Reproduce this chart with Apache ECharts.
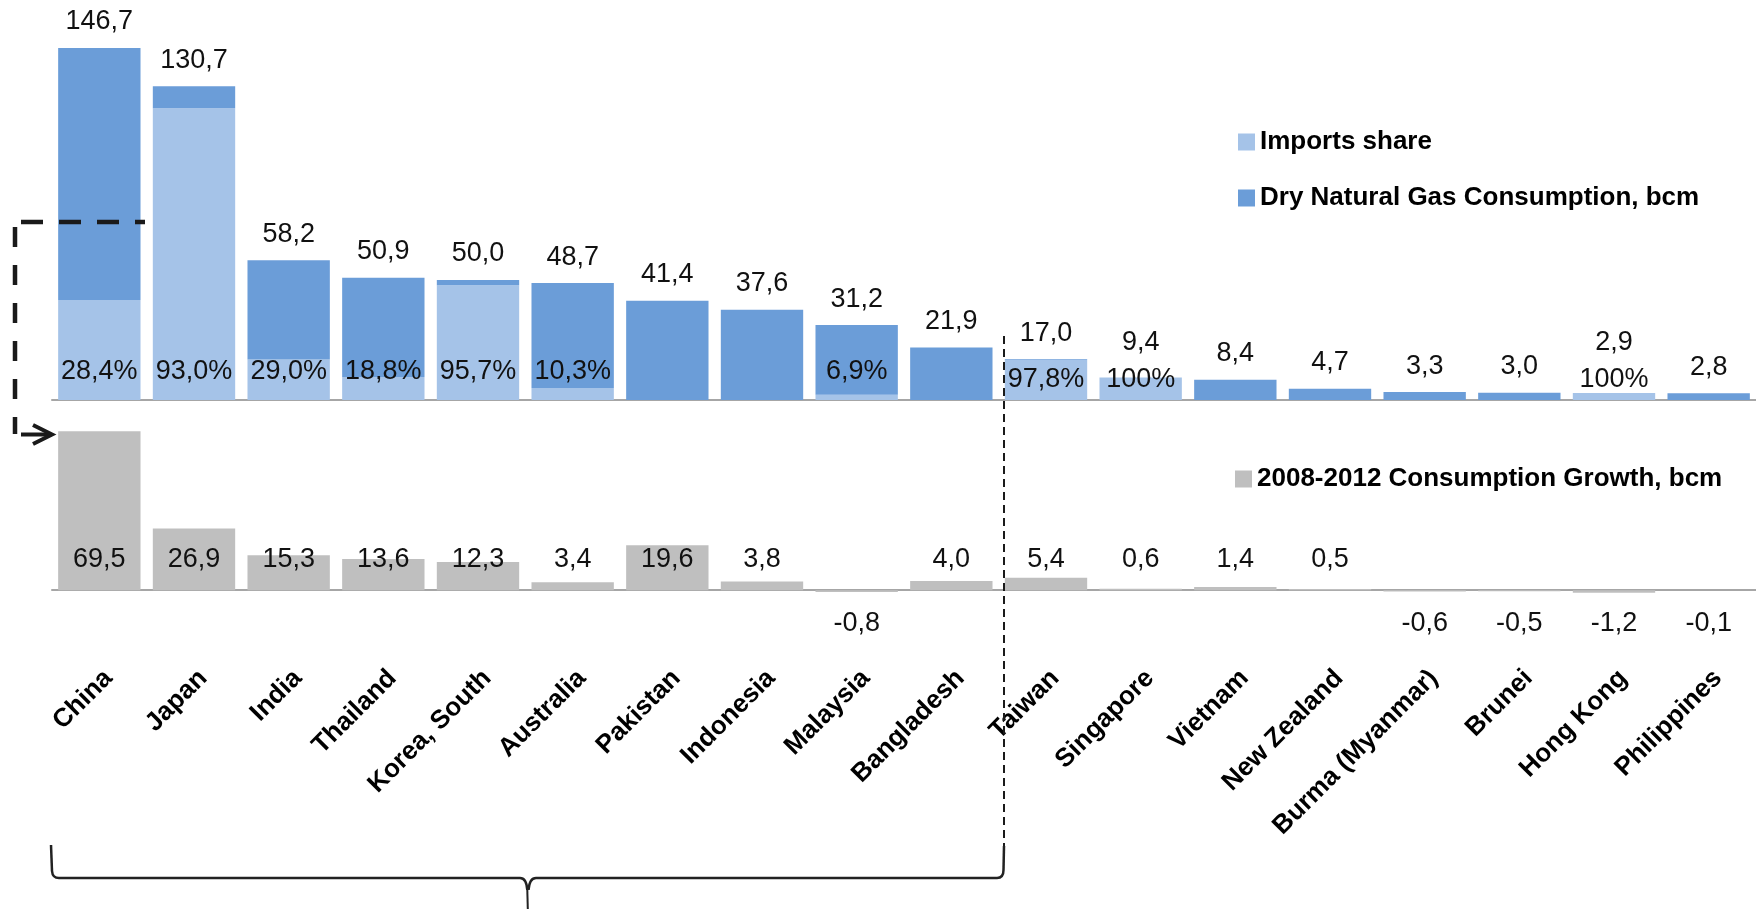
<!DOCTYPE html>
<html><head><meta charset="utf-8">
<script src="https://cdn.jsdelivr.net/npm/echarts@6/dist/echarts.min.js"></script>
<style>html,body{margin:0;padding:0;background:#fff}#c{width:1756px;height:909px}</style>
</head><body><div id="c"></div>
<script>
// ---- data ----
const categories = ['China','Japan','India','Thailand','Korea, South','Australia','Pakistan','Indonesia','Malaysia','Bangladesh','Taiwan','Singapore','Vietnam','New Zealand','Burma (Myanmar)','Brunei','Hong Kong','Philippines'];
const consumption = [146.7,130.7,58.2,50.9,50.0,48.7,41.4,37.6,31.2,21.9,17.0,9.4,8.4,4.7,3.3,3.0,2.9,2.8];
const importsShare = [28.4,93.0,29.0,18.8,95.7,10.3,null,null,6.9,null,97.8,100,null,null,null,null,100,null];
const growth = [69.5,26.9,15.3,13.6,12.3,3.4,19.6,3.8,-0.8,4.0,5.4,0.6,1.4,0.5,-0.6,-0.5,-1.2,-0.1];
const seriesNames = ['Imports share','Dry Natural Gas Consumption, bcm','2008-2012 Consumption Growth, bcm'];

// ---- style ----
const DARK = '#6b9dd8', LIGHT = '#a5c3e8', GRAY = '#bfbfbf', AXIS = '#a6a6a6', INK = '#111';
const NUM_FONT = "'Liberation Sans Narrow','Arial Narrow','Liberation Sans',Arial,sans-serif";
const TXT_FONT = "'Liberation Sans',Arial,sans-serif";
const NUM_SIZE = 27;
const GRID_LEFT = 52, GRID_W = 1714;
const TOP_TOP = 40, TOP_H = 360, TOP_MAX = 150;
const BOT_TOP = 430, BOT_H = 183, BOT_MIN = -10, BOT_MAX = 70;
const pxTop = TOP_H / TOP_MAX;

const fmt = v => v.toFixed(1).replace('.', ',');
const fmtPct = v => v === 100 ? '100%' : fmt(v) + '%';

const importedPart = consumption.map((c, i) => importsShare[i] == null ? 0 : c * importsShare[i] / 100);
const domesticPart = consumption.map((c, i) => c - importedPart[i]);

const numLabel = { fontFamily: NUM_FONT, fontSize: NUM_SIZE, lineHeight: NUM_SIZE, color: INK };
const DK = '#1a1a1a';

const chart = echarts.init(document.getElementById('c'), null, { renderer: 'canvas' });
chart.setOption({
  animation: false,
  backgroundColor: '#fff',
  grid: [
    { left: GRID_LEFT, width: GRID_W, top: TOP_TOP, height: TOP_H },
    { left: GRID_LEFT, width: GRID_W, top: BOT_TOP, height: BOT_H }
  ],
  xAxis: [
    { type: 'category', gridIndex: 0, data: categories,
      axisLine: { lineStyle: { color: AXIS, width: 2 } }, axisTick: { show: false }, axisLabel: { show: false } },
    { type: 'category', gridIndex: 1, data: categories,
      axisLine: { onZero: true, lineStyle: { color: AXIS, width: 2 } }, axisTick: { show: false },
      axisLabel: { interval: 0, rotate: 45, margin: 52, verticalAlign: 'top', fontFamily: TXT_FONT, fontWeight: 'bold', fontSize: 26, color: '#000' } }
  ],
  yAxis: [
    { type: 'value', gridIndex: 0, min: 0, max: TOP_MAX, show: false, splitLine: { show: false } },
    { type: 'value', gridIndex: 1, min: BOT_MIN, max: BOT_MAX, show: false, splitLine: { show: false } }
  ],
  legend: [
    { data: [seriesNames[0], seriesNames[1]], orient: 'vertical', left: 1233, top: 124,
      itemWidth: 17, itemHeight: 17, itemGap: 30, icon: 'rect', selectedMode: false,
      textStyle: { fontFamily: TXT_FONT, fontWeight: 'bold', fontSize: 26, lineHeight: 26, color: '#000' } },
    { data: [seriesNames[2]], orient: 'vertical', left: 1230, top: 461,
      itemWidth: 17, itemHeight: 17, icon: 'rect', selectedMode: false,
      textStyle: { fontFamily: TXT_FONT, fontWeight: 'bold', fontSize: 26, lineHeight: 26, color: '#000' } }
  ],
  series: [
    { name: seriesNames[0], type: 'bar', xAxisIndex: 0, yAxisIndex: 0, stack: 'cons',
      barCategoryGap: '13%', itemStyle: { color: LIGHT },
      data: importedPart.map((v, i) => ({ value: v,
        label: { show: importsShare[i] != null, distance: consumption[i] * pxTop < 45 ? 6.5 : 15 } })),
      label: { position: 'insideBottom', ...numLabel,
        formatter: p => importsShare[p.dataIndex] == null ? '' : fmtPct(importsShare[p.dataIndex]) } },
    { name: seriesNames[1], type: 'bar', xAxisIndex: 0, yAxisIndex: 0, stack: 'cons',
      barCategoryGap: '13%', itemStyle: { color: DARK },
      data: domesticPart.map((v, i) => ({ value: v,
        label: { distance: importsShare[i] != null ? Math.max(12.5, 44 - consumption[i] * pxTop) : 12.5 } })),
      label: { show: true, position: 'top', ...numLabel, formatter: p => fmt(consumption[p.dataIndex]) } },
    { name: seriesNames[2], type: 'bar', xAxisIndex: 1, yAxisIndex: 1,
      barCategoryGap: '13%', itemStyle: { color: GRAY },
      data: growth.map(v => ({ value: v,
        label: { position: v >= 0 ? 'insideBottom' : 'insideTop', distance: v >= 0 ? 17 : 19.5 } })),
      label: { show: true, ...numLabel, formatter: p => fmt(growth[p.dataIndex]) } }
  ],
  graphic: [
    // dashed connector from China consumption to China growth
    { type: 'line', z: 100, shape: { x1: 21, y1: 222, x2: 145, y2: 222 }, style: { stroke: DK, lineWidth: 4.5, lineDash: [22, 16] } },
    { type: 'line', z: 100, shape: { x1: 15, y1: 227, x2: 15, y2: 434 }, style: { stroke: DK, lineWidth: 4.5, lineDash: [20, 18] } },
    { type: 'line', z: 100, shape: { x1: 21, y1: 434.5, x2: 51, y2: 434.5 }, style: { stroke: DK, lineWidth: 4 } },
    { type: 'polyline', z: 100, shape: { points: [[33, 425], [52, 434.5], [33, 444]] }, style: { stroke: DK, lineWidth: 4, fill: null } },
    // thin dashed separator
    { type: 'line', z: 100, shape: { x1: 1004, y1: 336, x2: 1004, y2: 846 }, style: { stroke: DK, lineWidth: 2, lineDash: [8, 5] } },
    // brace
    { type: 'line', z: 100, shape: { x1: 51, y1: 845, x2: 52, y2: 871 }, style: { stroke: '#222', lineWidth: 2.5 } },
    { type: 'bezierCurve', z: 100, shape: { x1: 52, y1: 871, cpx1: 52.5, cpy1: 878, x2: 59, y2: 878 }, style: { stroke: '#222', lineWidth: 2.5, fill: null } },
    { type: 'line', z: 100, shape: { x1: 59, y1: 878, x2: 520, y2: 878 }, style: { stroke: '#222', lineWidth: 2.5 } },
    { type: 'bezierCurve', z: 100, shape: { x1: 520, y1: 878, cpx1: 526.5, cpy1: 878, x2: 527.3, y2: 890 }, style: { stroke: '#222', lineWidth: 2.5, fill: null } },
    { type: 'line', z: 100, shape: { x1: 527.3, y1: 890, x2: 527.8, y2: 909 }, style: { stroke: '#222', lineWidth: 2 } },
    { type: 'bezierCurve', z: 100, shape: { x1: 528.5, y1: 890, cpx1: 529.5, cpy1: 878, x2: 536, y2: 878 }, style: { stroke: '#222', lineWidth: 2.5, fill: null } },
    { type: 'line', z: 100, shape: { x1: 536, y1: 878, x2: 997, y2: 878 }, style: { stroke: '#222', lineWidth: 2.5 } },
    { type: 'bezierCurve', z: 100, shape: { x1: 997, y1: 878, cpx1: 1003.5, cpy1: 878, x2: 1003.5, y2: 870 }, style: { stroke: '#222', lineWidth: 2.5, fill: null } },
    { type: 'line', z: 100, shape: { x1: 1003.5, y1: 870, x2: 1004, y2: 846 }, style: { stroke: '#222', lineWidth: 2.5 } }
  ]
});
</script></body></html>
